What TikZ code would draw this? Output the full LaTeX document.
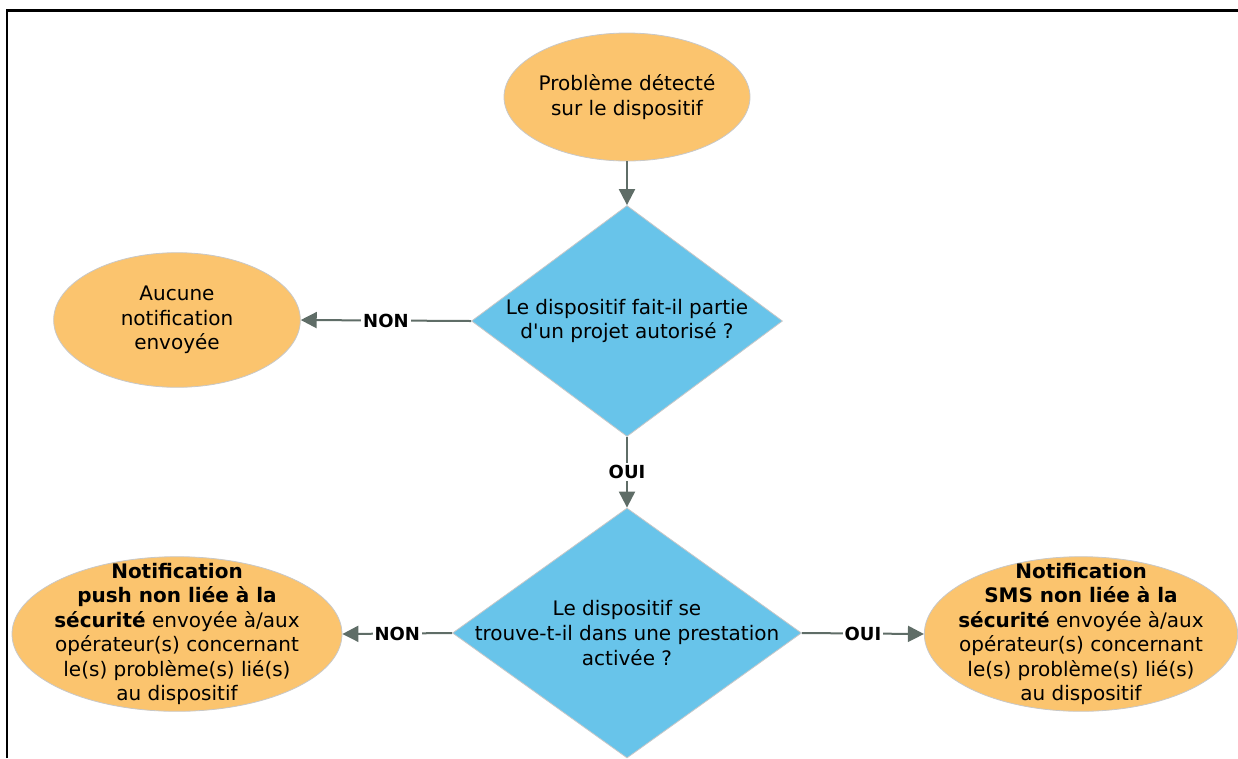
\documentclass[tikz,border=0pt]{standalone}
\usepackage{fontspec}
\setmainfont{DejaVu Sans}
\usetikzlibrary{shapes.geometric,arrows.meta}

\definecolor{orangeboite}{RGB}{251,196,110}
\definecolor{bleudecision}{RGB}{104,196,234}
\definecolor{gristrait}{RGB}{95,109,103}
\definecolor{grisbord}{RGB}{200,200,200}

\tikzset{
    texte/.style={align=center, inner sep=0pt, font=\fontsize{15}{18.4}\selectfont},
    etat/.style={ellipse, fill=orangeboite, draw=grisbord, line width=0.6pt,
        inner sep=0pt},
    question/.style={diamond, fill=bleudecision, draw=grisbord, line width=0.6pt,
        inner sep=0pt},
    fleche/.style={draw=gristrait, line width=1.5pt,
        -{Triangle[length=12pt,width=12pt]}},
    reponse/.style={fill=white, inner sep=1.5pt, text=black,
        font=\fontsize{13.5}{15}\selectfont\bfseries}
}

\begin{document}
\begin{tikzpicture}[x=0.75pt,y=-0.75pt]
    \useasboundingbox (0,0) rectangle (1238,758);

    % Cadre
    \draw[line width=1.8pt] (7,758) -- (7,10.5) -- (1238,10.5);

    % Formes
    \node[etat, minimum width=184.5pt, minimum height=96pt] (probleme) at (627,97) {};
    \node[question, minimum width=233.25pt, minimum height=173.25pt] (projet) at (627,321) {};
    \node[etat, minimum width=185pt, minimum height=101pt] (aucune) at (177,320) {};
    \node[question, minimum width=261.75pt, minimum height=187.5pt] (prestation) at (627,633) {};
    \node[etat, minimum width=247.5pt, minimum height=116pt] (push) at (177,634) {};
    \node[etat, minimum width=235pt, minimum height=116pt] (sms) at (1081,634) {};

    % Textes
    \node[texte] (probleme-texte) at (probleme) {Problème détecté\\sur le dispositif};
    \node[texte] (projet-texte) at (projet) {Le dispositif fait-il partie\\d\textquotesingle un projet autorisé ?};
    \node[texte] (aucune-texte) at (aucune) {Aucune\\notification\\envoyée};
    \node[texte] (prestation-texte) at (prestation)
        {Le dispositif se\\trouve-t-il dans une prestation\\activée ?};
    \node[texte] (push-texte) at (push)
        {\textbf{Notification}\\\textbf{push non liée à la}\\\textbf{sécurité} envoyée à/aux\\opérateur(s) concernant\\le(s) problème(s) lié(s)\\au dispositif};
    \node[texte] (sms-texte) at (sms)
        {\textbf{Notification}\\\textbf{SMS non liée à la}\\\textbf{sécurité} envoyée à/aux\\opérateur(s) concernant\\le(s) problème(s) lié(s)\\au dispositif};

    % Liens
    \draw[fleche] (probleme) -- (projet);
    \draw[fleche] (projet.west) -- node[reponse] {NON} (aucune.east);
    \draw[fleche] (projet.south) -- node[reponse] {OUI} (prestation.north);
    \draw[fleche] (prestation.west) -- node[reponse] {NON} (push.east);
    \draw[fleche] (prestation.east) -- node[reponse] {OUI} (sms.west);
\end{tikzpicture}
\end{document}
